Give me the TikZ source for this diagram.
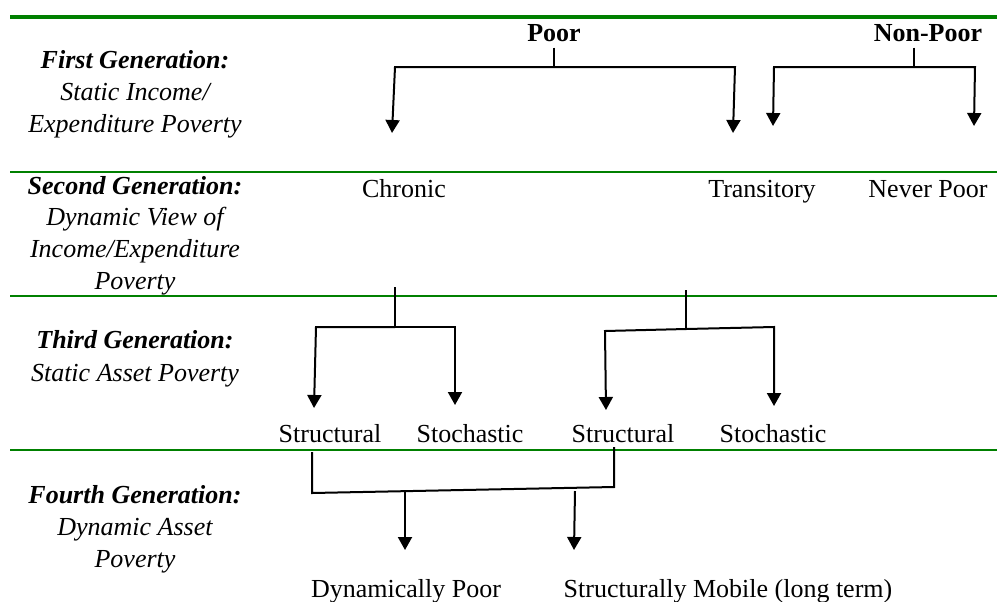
\documentclass[tikz,border=0pt]{standalone}
\usepackage{fontspec}
\setmainfont{Liberation Serif}
\usetikzlibrary{calc,arrows.meta}
\definecolor{rulegreen}{HTML}{008000}

\begin{document}
\begin{tikzpicture}[x=0.5pt,y=-0.5pt,
    GEN/.style={align=center, anchor=base, inner sep=0pt, font=\fontsize{13}{15.8}\selectfont\itshape},
    CAT/.style={anchor=base, inner sep=3pt, font=\fontsize{13}{15.8}\selectfont},
    HEAD/.style={CAT, font=\fontsize{13}{15.8}\selectfont\bfseries},
    SEP/.style={draw=rulegreen, line width=1.2pt},
    BRK/.style={line width=1pt},
    ARR/.style={line width=1pt, -{Triangle[width=7pt,length=6.5pt]}}
    ]
        \useasboundingbox (0,0) rectangle (997,601);
        \coordinate (s0l) at (10,16.5);  \coordinate (s0r) at (997,16.5);
        \coordinate (s1l) at (10,172);   \coordinate (s1r) at (997,172);
        \coordinate (s2l) at (10,296);   \coordinate (s2r) at (997,296);
        \coordinate (s3l) at (10,450);   \coordinate (s3r) at (997,450);
        \draw[SEP, line width=2pt] (s0l) -- (s0r);
        \draw[SEP] (s1l) -- (s1r);
        \draw[SEP] (s2l) -- (s2r);
        \draw[SEP] (s3l) -- (s3r);

        \node[GEN] (G1) at (135,132) {{\bfseries First Generation:}\\Static Income/\\Expenditure Poverty};
        \node[GEN] (G2) at (135,289) {{\bfseries Second Generation:}\\Dynamic View of\\Income/Expenditure\\Poverty};
        \node[GEN, font=\fontsize{13}{16.5}\selectfont\itshape] (G3) at (135,381) {{\bfseries Third Generation:}\\Static Asset Poverty};
        \node[GEN] (G4) at (135,567) {{\bfseries Fourth Generation:}\\Dynamic Asset\\Poverty};

        \node[HEAD] (poor) at (554,41) {Poor};
        \node[HEAD] (nonpoor) at (928,41) {Non-Poor};
        \node[CAT] (chronic) at (404,197) {Chronic};
        \node[CAT] (trans) at (762,197) {Transitory};
        \node[CAT] (never) at (928,197) {Never Poor};
        \node[CAT] (strA) at (330,442) {Structural};
        \node[CAT] (stoA) at (470,442) {Stochastic};
        \node[CAT] (strB) at (623,442) {Structural};
        \node[CAT] (stoB) at (773,442) {Stochastic};
        \node[CAT] (dynpoor) at (406,597) {Dynamically Poor};
        \node[CAT] (strmob) at (728,597) {Structurally Mobile (long term)};

        \coordinate (pJ) at (554,67);
        \coordinate (pL) at (395,67);  \coordinate (pLt) at (392,133);
        \coordinate (pR) at (735,67);  \coordinate (pRt) at (733,133);
        \draw[BRK] (poor.south) -- (pJ);
        \draw[ARR] (pJ) -- (pL) -- (pLt);
        \draw[ARR] (pJ) -- (pR) -- (pRt);

        \coordinate (nJ) at (914,67);
        \coordinate (nL) at (774,67);  \coordinate (nLt) at (773,126);
        \coordinate (nR) at (975,67);  \coordinate (nRt) at (974,126);
        \draw[BRK] (nonpoor.south -| nJ) -- (nJ);
        \draw[ARR] (nJ) -- (nL) -- (nLt);
        \draw[ARR] (nJ) -- (nR) -- (nRt);

        \coordinate (cT) at (395,287);  \coordinate (cJ) at (395,327);
        \coordinate (cL) at (316,327);  \coordinate (cLt) at (314,408);
        \coordinate (cR) at (455,327);  \coordinate (cRt) at (455,405);
        \draw[BRK] (cT) -- (cJ);
        \draw[ARR] (cJ) -- (cL) -- (cLt);
        \draw[ARR] (cJ) -- (cR) -- (cRt);

        \coordinate (tT) at (686,290);  \coordinate (tJ) at (686,329);
        \coordinate (tL) at (605,331);  \coordinate (tLt) at (606,410);
        \coordinate (tR) at (774,327);  \coordinate (tRt) at (774,406);
        \draw[BRK] (tT) -- (tJ);
        \draw[ARR] (tJ) -- (tL) -- (tLt);
        \draw[ARR] (tJ) -- (tR) -- (tRt);

        \coordinate (fA) at (312,452);  \coordinate (fB) at (312,493);
        \coordinate (fC) at (614,487);  \coordinate (fD) at (614,447);
        \draw[BRK] (fA) -- (fB) -- (fC) -- (fD);
        \coordinate (fL) at (405,492);  \coordinate (fLt) at (405,550);
        \coordinate (fR) at (575,491);  \coordinate (fRt) at (574,550);
        \draw[ARR] (fL) -- (fLt);
        \draw[ARR] (fR) -- (fRt);
    \end{tikzpicture}
\end{document}
